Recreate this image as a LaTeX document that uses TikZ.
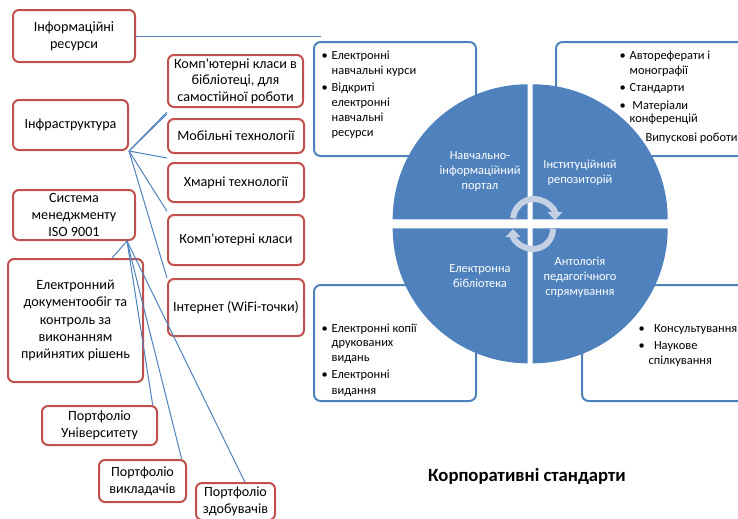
\documentclass[tikz,border=0pt]{standalone}
\usepackage{fontspec}
\setmainfont{Carlito}
\usepackage{tikz}
\usetikzlibrary{arrows.meta}
\definecolor{boxred}{RGB}{192,80,77}
\definecolor{accblue}{RGB}{79,129,189}
\definecolor{arcgrey}{RGB}{196,208,228}
\tikzset{every picture/.style={line width=0.75pt}}
\tikzset{
  redbox/.style={draw=boxred, line width=1.5pt, rounded corners=4.5pt, fill=white, align=center, inner sep=0pt, font=\fontsize{10.6}{13}\selectfont},
  bluebox/.style={draw=accblue, line width=1.5pt, rounded corners=5pt, fill=white, inner sep=0pt},
  listtext/.style={anchor=base west, inner sep=0pt, align=left, font=\fontsize{9.3}{11.25}\selectfont},
  quadtext/.style={text=white, align=center, inner sep=0pt, font=\fontsize{9.3}{11.25}\selectfont},
  link/.style={draw=accblue, line width=0.75pt},
  turnarrow/.style={draw=arcgrey, line width=4.5pt, -{Triangle[length=6pt,width=11pt]}},
}

\begin{document}
\begin{tikzpicture}[x=0.75pt,y=0.75pt,yscale=-1,xscale=1]
\useasboundingbox (0,0) rectangle (738,518);

%Shape: Rectangle [left column]
\node [redbox, minimum width=91.5pt, minimum height=39pt] (inforesurs) at (74,36) {Інформаційні\\ресурси};
\node [redbox, minimum width=86.25pt, minimum height=37.5pt] (infra) at (70.5,125) {Інфраструктура};
\node [redbox, minimum width=91.5pt, minimum height=37.5pt] (iso) at (74,215) {Система\\менеджменту\\ISO 9001};
\node [redbox, minimum width=101.25pt, minimum height=92.25pt] (docflow) at (75.5,320.5) {Електронний\\документообіг та\\контроль за\\виконанням\\прийнятих рішень};
\node [redbox, minimum width=86.25pt, minimum height=29.25pt] (portuni) at (99.5,425.5) {Портфоліо\\Університету};
\node [redbox, minimum width=65.25pt, minimum height=31.5pt] (portvykl) at (142.5,481) {Портфоліо\\викладачів};
\node [redbox, minimum width=59.25pt, minimum height=27.75pt] (portzdob) at (235.5,501.5) {Портфоліо\\здобувачів};

%Shape: Rectangle [middle column]
\node [redbox, minimum width=101.25pt, minimum height=39pt, font=\fontsize{10.6}{12.4}\selectfont] (kbib) at (235.5,81) {Комп\textquotesingle ютерні класи в\\бібліотеці, для\\самостійної роботи};
\node [redbox, minimum width=102pt, minimum height=25.5pt] (mobile) at (236,136) {Мобільні технології};
\node [redbox, minimum width=102pt, minimum height=29.25pt] (cloud) at (236,182.5) {Хмарні технології};
\node [redbox, minimum width=102pt, minimum height=37.5pt] (kklasy) at (236,240) {Комп\textquotesingle ютерні класи};
\node [redbox, minimum width=102pt, minimum height=42.75pt] (internet) at (236,307.5) {Інтернет (WiFi-точки)};

%Straight Lines
\coordinate (inforesend) at (321,36);
\draw [link] (inforesurs.east) -- (inforesend);
\draw [link] (infra.south east) -- ([yshift=3pt]kbib.south west);
\draw [link] (infra.south east) -- ([yshift=-3pt]mobile.north west);
\draw [link] (infra.south east) -- ([yshift=-3pt]cloud.north west);
\draw [link] (infra.south east) -- ([yshift=-2pt]kklasy.north west);
\draw [link] (infra.south east) -- (internet.north west);
\draw [link] ([xshift=-6.75pt]iso.south east) -- ([xshift=27.4pt]docflow.north);
\draw [link] ([xshift=-6.75pt]iso.south east) -- ([xshift=-4pt]portuni.north east);
\draw [link] ([xshift=-6.75pt]iso.south east) -- ([xshift=-4pt]portvykl.north east);
\draw [link] ([xshift=-6.75pt]iso.south east) -- ([xshift=7pt]portzdob.north);

%Shape: Rectangle [blue frames]
\node [bluebox, minimum width=121.5pt, minimum height=85.5pt] (tlframe) at (395,99) {};
\node [bluebox, minimum width=153pt, minimum height=85.5pt] (trframe) at (658,99) {};
\node [bluebox, minimum width=121.5pt, minimum height=87pt] (blframe) at (395,343) {};
\node [bluebox, minimum width=148.5pt, minimum height=87pt] (brframe) at (681,343) {};

% Text Node
\node [listtext] (tllist) at (321,59.5) {\begin{tabular}[t]{@{}l@{\hspace{3pt}}l@{}}
\textbullet & Електронні\\
 & навчальні курси\\[1.5pt]
\textbullet & Відкриті\\
 & електронні\\
 & навчальні\\
 & ресурси
\end{tabular}};
% Text Node
\node [listtext] (trlist) at (619,59.5) {\begin{tabular}[t]{@{}l@{\hspace{3pt}}l@{}}
\textbullet & Автореферати і\\
 & монографії\\[1.5pt]
\textbullet & Стандарти\\[2pt]
\textbullet & \ Матеріали\\[-1pt]
 & конференцій
\end{tabular}};
% Text Node
\node [listtext] (trlast) at (645,141.5) {Випускові роботи};
% Text Node
\node [listtext] (bllist) at (321,332.5) {\begin{tabular}[t]{@{}l@{\hspace{3pt}}l@{}}
\textbullet & Електронні копії\\[-0.75pt]
 & друкованих\\
 & видань\\[1.5pt]
\textbullet & Електронні\\[0.75pt]
 & видання
\end{tabular}};
% Text Node
\node [listtext] (brlist) at (638,332.5) {\begin{tabular}[t]{@{}l@{\hspace{7pt}}l@{}}
\textbullet & Консультування\\[1.5pt]
\textbullet & Наукове\\
 & \hspace{-4pt}спілкування
\end{tabular}};

%Shape: Pie quadrants
\fill [accblue] (527.7,219.3) -- ++(-135,0) arc [start angle=180, end angle=270, radius=135] -- cycle;
\fill [accblue] (532.7,219.3) -- ++(0,-135) arc [start angle=270, end angle=360, radius=135] -- cycle;
\fill [accblue] (532.7,228.3) -- ++(135,0) arc [start angle=0, end angle=90, radius=135] -- cycle;
\fill [accblue] (527.7,228.3) -- ++(0,135) arc [start angle=90, end angle=180, radius=135] -- cycle;

% Text Node
\node [quadtext] (portal) at (480,172) {Навчально-\\інформаційний\\портал};
\node [quadtext] (repo) at (580,172.5) {Інституційний\\репозиторій};
\node [quadtext] (ebib) at (480,276) {Електронна\\бібліотека};
\node [quadtext] (antol) at (580,277) {Антологія\\педагогічного\\спрямування};

%Curve Lines [turn arrows]
\draw [turnarrow] (513.1,218.2) arc [start angle=-175, end angle=0, radius=21];
\draw [turnarrow] (553,229) arc [start angle=0, end angle=180, radius=20];

% Text Node
\node [inner sep=0pt, font=\fontsize{14}{16}\selectfont\bfseries] (title) at (527,476) {Корпоративні стандарти};

\end{tikzpicture}
\end{document}
